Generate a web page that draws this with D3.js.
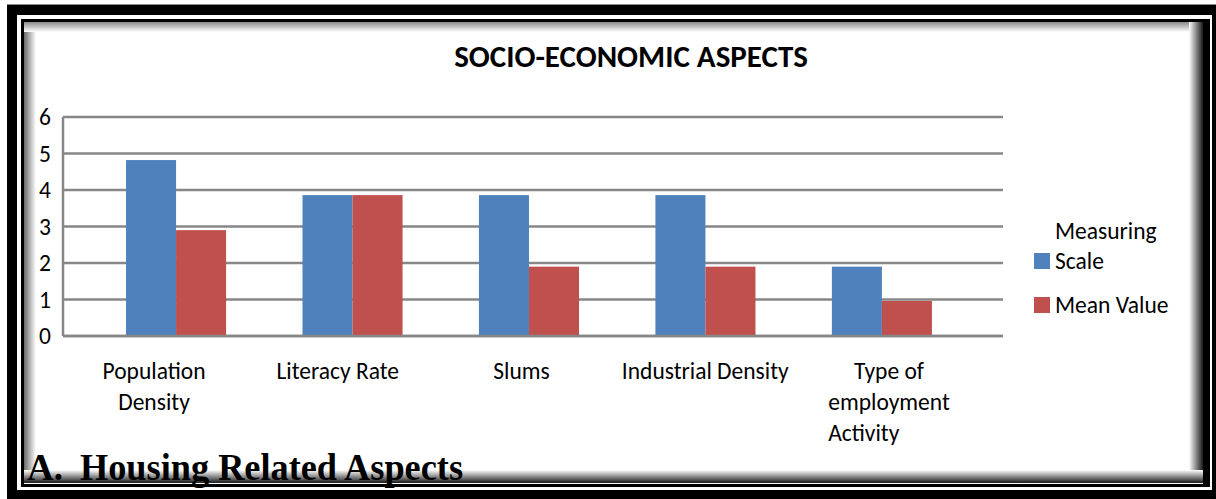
<!DOCTYPE html>
<html>
<head>
<meta charset="utf-8">
<script src="https://cdn.jsdelivr.net/npm/d3@7"></script>
<style>
  body { margin: 0; background: #fff; }
  text { font-family: Carlito, Lato, sans-serif; fill: #000; }
</style>
</head>
<body>
<div id="chart"></div>
<script>
var categories = ["Population Density", "Literacy Rate", "Slums", "Industrial Density", "Type of employment Activity"];
var categoryLines = [["Population", "Density"], ["Literacy Rate"], ["Slums"], ["Industrial Density"], ["Type of", "employment", "Activity"]];
var seriesNames = ["Measuring Scale", "Mean Value"];
var legendLines = [["Measuring", "Scale"], ["Mean Value"]];
var measuringScale = [4.82, 3.86, 3.86, 3.86, 1.9];
var meanValue = [2.9, 3.86, 1.9, 1.9, 0.96];
var yTicks = [0, 1, 2, 3, 4, 5, 6];
var chartTitle = "SOCIO-ECONOMIC ASPECTS";
var headingNum = "A.";
var headingText = "Housing Related Aspects";

var W = 1216, H = 499;
var colors = ["#4f81bd", "#c0504d"];

var svg = d3.select("#chart")
    .append("svg")
    .attr("width", W)
    .attr("height", H);

var defs = svg.append("defs");
var mkGrad = function (id, x1, y1, x2, y2, from, to) {
    var g = defs.append("linearGradient").attr("id", id)
        .attr("x1", x1).attr("y1", y1).attr("x2", x2).attr("y2", y2);
    g.append("stop").attr("offset", "0%").attr("stop-color", from);
    g.append("stop").attr("offset", "100%").attr("stop-color", to);
};
mkGrad("shL", 0, 0, 1, 0, "#6a6a6a", "#ffffff");
mkGrad("shT", 0, 0, 0, 1, "#8a8a8a", "#ffffff");
mkGrad("shR", 0, 0, 1, 0, "#ffffff", "#1a1a1a");
mkGrad("shB", 0, 0, 0, 1, "#ffffff", "#1a1a1a");

var y = d3.scaleLinear().domain([0, 6]).range([336, 117]);
var x = d3.scaleBand().domain(categories).range([63, 1003])
    .paddingInner(0.433).paddingOuter(0.38).align(0.47);
var xs = d3.scaleBand().domain(seriesNames).range([0, x.bandwidth()]);
var xl = d3.scalePoint().domain(categories).range([154, 889]);

// inner shadow of the page border
var shadow = svg.append("g");
shadow.append("rect").attr("x", 24).attr("y", 22).attr("width", 12).attr("height", 461).attr("fill", "url(#shL)");
shadow.append("rect").attr("x", 24).attr("y", 22).attr("width", 1179).attr("height", 10).attr("fill", "url(#shT)");
shadow.append("rect").attr("x", 1189).attr("y", 22).attr("width", 14).attr("height", 461).attr("fill", "url(#shR)");
shadow.append("rect").attr("x", 24).attr("y", 470).attr("width", 1179).attr("height", 13).attr("fill", "url(#shB)");

// title
svg.append("text")
    .attr("x", 631).attr("y", 67)
    .attr("text-anchor", "middle")
    .style("font-size", "31px").style("font-weight", "bold")
    .text(chartTitle);

// gridlines
svg.append("g").selectAll("line")
    .data(yTicks)
    .enter().append("line")
    .attr("x1", 63).attr("x2", 1003)
    .attr("y1", function(d) { return y(d); })
    .attr("y2", function(d) { return y(d); })
    .attr("stroke", "#878787")
    .attr("stroke-width", 2.5);

svg.append("line")
    .attr("x1", 63).attr("x2", 63)
    .attr("y1", y(6)).attr("y2", y(0))
    .attr("stroke", "#878787").attr("stroke-width", 2.5);

// y tick labels
svg.append("g").selectAll("text")
    .data(yTicks)
    .enter().append("text")
    .attr("x", 51)
    .attr("y", function(d) { return y(d) + 8; })
    .attr("text-anchor", "end")
    .style("font-size", "23.5px")
    .text(function(d) { return d; });

// bars
var rows = categories.map(function(c, i) {
    return { cat: c, vals: [measuringScale[i], meanValue[i]] };
});
var groups = svg.append("g").selectAll("g")
    .data(rows)
    .enter().append("g")
    .attr("transform", function(d) { return "translate(" + x(d.cat) + ",0)"; });
groups.selectAll("rect")
    .data(function(d) { return d.vals.map(function(v, j) { return { s: seriesNames[j], v: v, j: j }; }); })
    .enter().append("rect")
    .attr("x", function(d) { return xs(d.s); })
    .attr("width", xs.bandwidth())
    .attr("y", function(d) { return y(d.v); })
    .attr("height", function(d) { return y(0) - y(d.v); })
    .attr("fill", function(d) { return colors[d.j]; });

// redraw baseline over bars
svg.append("line")
    .attr("x1", 63).attr("x2", 1003)
    .attr("y1", y(0)).attr("y2", y(0))
    .attr("stroke", "#878787").attr("stroke-width", 2.5);

// category labels
categories.forEach(function(c, i) {
    var lines = categoryLines[i];
    var t = svg.append("text")
        .style("font-size", "23.5px");
    lines.forEach(function(l, k) {
        t.append("tspan")
            .attr("x", xl(c))
            .attr("y", 379 + k * 31)
            .attr("text-anchor", "middle")
            .text(l);
    });
    // last label: lines after the first are left aligned in the original
    if (lines.length > 2) {
        var sp = t.selectAll("tspan").nodes();
        var w = sp[1].getComputedTextLength();
        for (var k = 1; k < sp.length; k++) {
            d3.select(sp[k]).attr("text-anchor", "start").attr("x", xl(c) - w / 2);
        }
    }
});

// legend
var legTop = [239, 313];
seriesNames.forEach(function(s, i) {
    var lines = legendLines[i];
    var last = legTop[i] + (lines.length - 1) * 30;
    svg.append("rect")
        .attr("x", 1034).attr("y", last - 16)
        .attr("width", 16).attr("height", 16)
        .attr("fill", colors[i]);
    var t = svg.append("text").style("font-size", "23.5px");
    lines.forEach(function(l, k) {
        t.append("tspan").attr("x", 1055).attr("y", legTop[i] + k * 30).text(l);
    });
});

// heading below chart
svg.append("text")
    .attr("x", 27).attr("y", 480)
    .style("font-family", "'Liberation Serif', serif")
    .style("font-size", "37px").style("font-weight", "bold")
    .text(headingNum);
svg.append("text")
    .attr("x", 80).attr("y", 480)
    .attr("textLength", 383).attr("lengthAdjust", "spacingAndGlyphs")
    .style("font-family", "'Liberation Serif', serif")
    .style("font-size", "37px").style("font-weight", "bold")
    .text(headingText);

// page border lines
var frame = svg.append("g");
frame.append("path")
    .attr("fill", "#000").attr("fill-rule", "evenodd")
    .attr("d", "M7,5H1216V499H7Z M17,15V490H1212V15Z");
frame.append("path")
    .attr("fill", "#000").attr("fill-rule", "evenodd")
    .attr("d", "M21,19H1210V487H21Z M24,22V484H1203V22Z");
frame.append("line").attr("x1", 7).attr("x2", 1216).attr("y1", 4.5).attr("y2", 4.5)
    .attr("stroke", "#888").attr("stroke-width", 1);
</script>
</body>
</html>
